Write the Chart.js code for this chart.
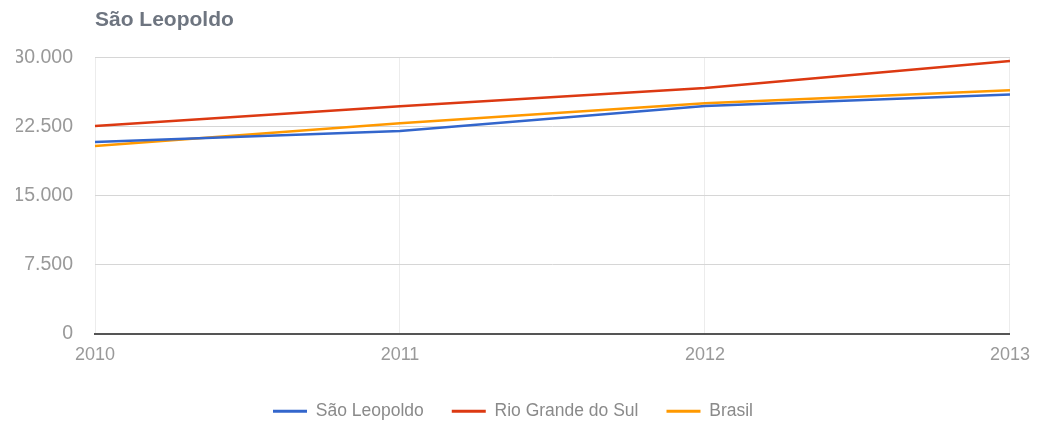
<!DOCTYPE html>
<html><head><meta charset="utf-8">
<script src="https://cdn.jsdelivr.net/npm/chart.js@4"></script>
<style>html,body{margin:0;padding:0;background:#fff}#wrap{width:1041px;height:422px}</style>
</head><body><div id="wrap"><canvas id="c" width="1041" height="422"></canvas></div>
<script>
const categories = ['2010', '2011', '2012', '2013'];
const saoLeopoldo = [20800, 22000, 24700, 25950];
const rioGrandeDoSul = [22530, 24670, 26660, 29600];
const brasil = [20360, 22820, 25000, 26410];
const yTicks = [0, 7500, 15000, 22500, 30000];
const chartTitle = 'São Leopoldo';

function fmt(v){ return String(Math.round(v)).replace(/\B(?=(\d{3})+(?!\d))/g, '.'); }
const FONT = "'Liberation Sans', Arial, sans-serif";

function ds(label, data, color){
  return {label, data, borderColor: color, backgroundColor: color, borderWidth: 2.5,
    pointRadius: 0, pointHoverRadius: 0, tension: 0, fill: false};
}

new Chart(document.getElementById('c'), {
  type: 'line',
  data: {
    labels: categories,
    datasets: [
      ds('São Leopoldo', saoLeopoldo, '#3366cc'),
      ds('Rio Grande do Sul', rioGrandeDoSul, '#dc3912'),
      ds('Brasil', brasil, '#ff9900')
    ]
  },
  options: {
    responsive: false,
    animation: false,
    layout: {padding: {left: 16, right: 31, top: 0, bottom: -8}},
    plugins: {
      title: {display: true, text: chartTitle, align: 'start', fullSize: false,
        color: '#6e7580', font: {family: FONT, size: 21, weight: 'bold'},
        padding: {top: 8, bottom: 24}},
      legend: {position: 'bottom',
        labels: {color: '#8a8a8a', font: {family: FONT, size: 17.5}, boxWidth: 34, boxHeight: 3, padding: 28,
          generateLabels(chart){
            return chart.data.datasets.map((d, i) => ({text: d.label, fillStyle: d.borderColor,
              strokeStyle: d.borderColor, lineWidth: 0, hidden: false, datasetIndex: i, fontColor: '#8a8a8a'}));
          }}},
      tooltip: {enabled: false}
    },
    scales: {
      x: {
        grid: {color: '#ececec', lineWidth: 1, drawTicks: false},
        border: {display: true, color: '#555', width: 2},
        ticks: {color: '#999', font: {family: FONT, size: 18}, padding: 11, maxRotation: 0, autoSkip: false},
        afterFit(s){ s.height = 41; }
      },
      y: {
        min: 0, max: 30000,
        afterBuildTicks(s){ s.ticks = yTicks.map(v => ({value: v})); },
        grid: {color: (c) => c.tick && c.tick.value === 0 ? 'rgba(0,0,0,0)' : '#d6d6d6', lineWidth: 1, drawTicks: false},
        border: {display: false},
        ticks: {color: '#999', font: {family: FONT, size: 19.5}, padding: 22, callback: (v) => fmt(v)},
        afterFit(s){ s.width = 79; }
      }
    }
  }
});
</script></body></html>
